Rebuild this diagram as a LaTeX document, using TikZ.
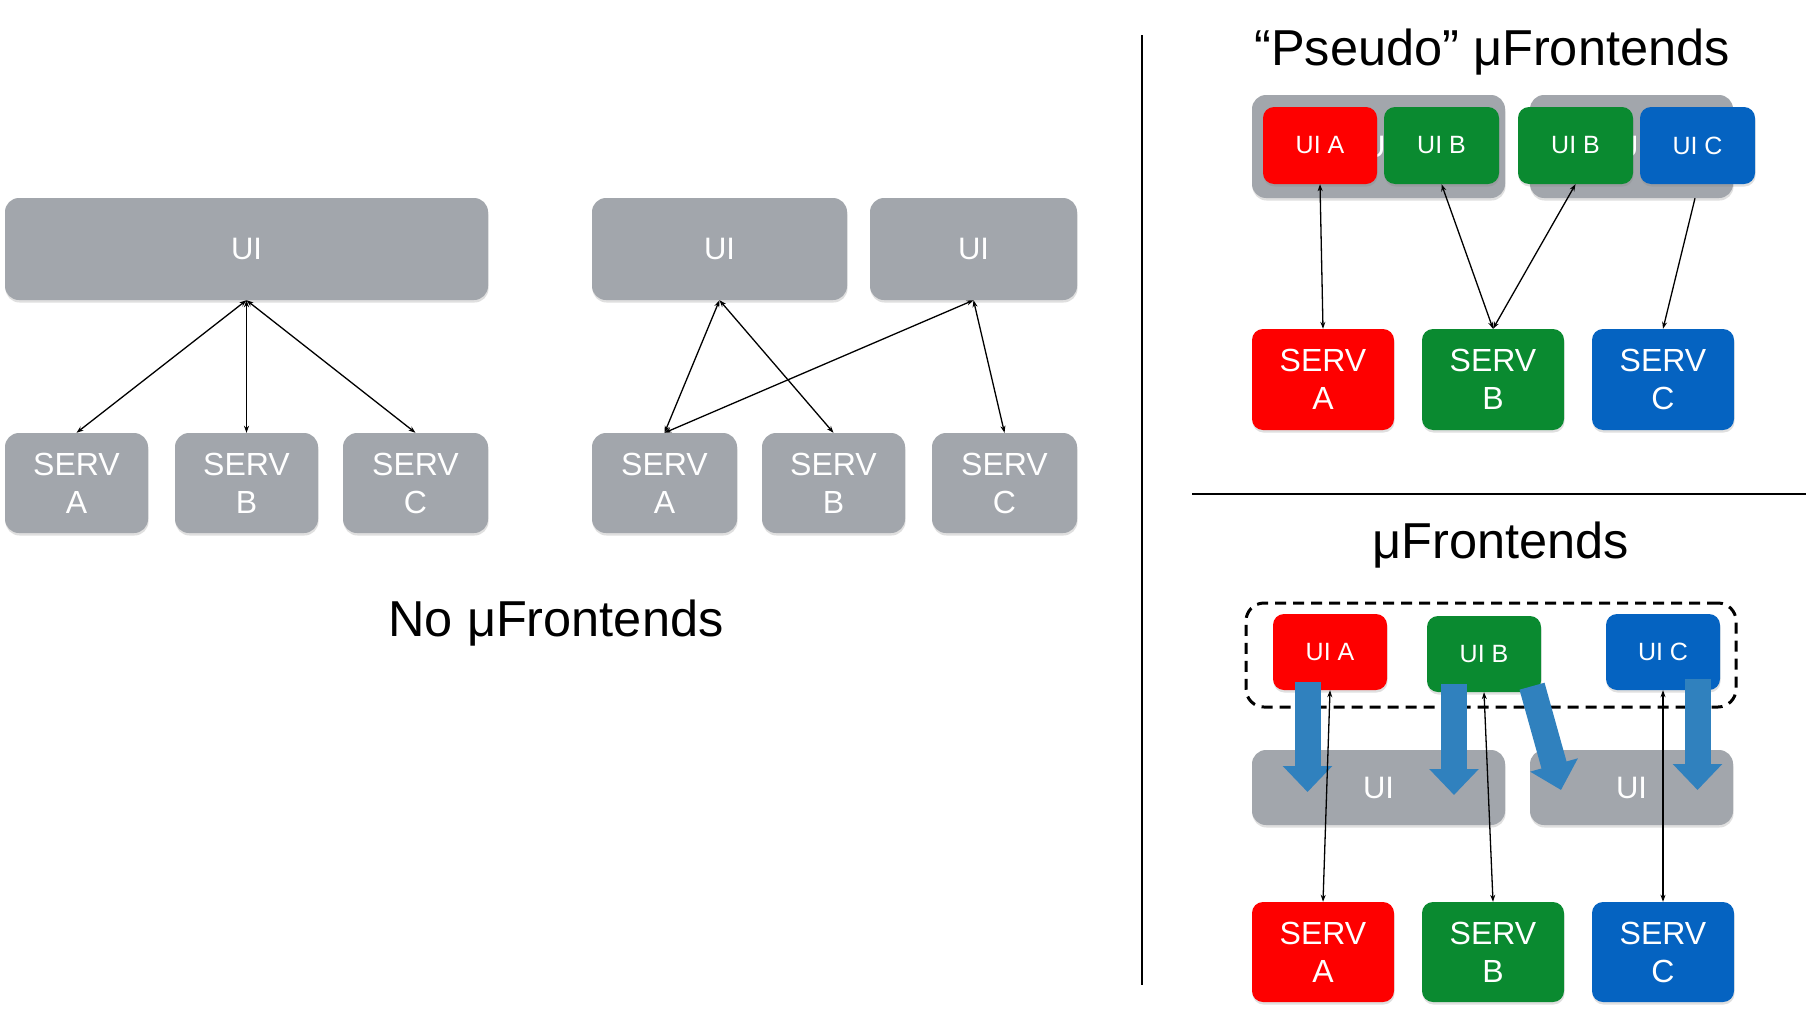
\documentclass[tikz,border=0pt]{standalone}
\usepackage{fontspec}
\setmainfont{Liberation Sans}
\usetikzlibrary{arrows.meta,shadows,calc}
\definecolor{uigray}{HTML}{A2A6AC}
\definecolor{cred}{HTML}{FE0000}
\definecolor{cgreen}{HTML}{0A8A30}
\definecolor{cblue}{HTML}{0563C1}
\definecolor{barrow}{HTML}{3081BE}
\tikzset{
  basebox/.style={draw=none, inner sep=0pt, text=white, align=center,
    drop shadow={shadow xshift=0.5pt, shadow yshift=-2.5pt, opacity=0.25}},
  graybox/.style={basebox, fill=uigray, rounded corners=14pt},
  colbox/.style={basebox, rounded corners=11pt},
  servfont/.style={font=\fontsize{32}{38}\selectfont},
  uifont/.style={font=\fontsize{31}{35}\selectfont},
  smallfont/.style={font=\fontsize{25}{29}\selectfont},
  titlefont/.style={font=\fontsize{50.5}{58}\selectfont},
  link/.style={line width=1.3pt, {Stealth[length=7pt,width=5pt]}-{Stealth[length=7pt,width=5pt]}},
  onelink/.style={line width=1.3pt, -{Stealth[length=7pt,width=5pt]}},
  blockarrow/.style={draw=barrow, line width=26pt, -{Triangle[length=26pt,width=48pt]}},
  divider/.style={line width=1.8pt, black},
}
\begin{document}
\begin{tikzpicture}[x=1pt,y=-1pt]
\useasboundingbox (0,0) rectangle (1806,1017);
\fill[white] (0,0) rectangle (1806,1017);

% ---------- Left: single UI ----------
\node[graybox, uifont, minimum width=483, minimum height=102] (ui0) at (246.5,249) {UI};
\node[graybox, servfont, minimum width=143, minimum height=100] (sa0) at (76.5,483) {SERV\\A};
\node[graybox, servfont, minimum width=143, minimum height=100] (sb0) at (246.5,483) {SERV\\B};
\node[graybox, servfont, minimum width=145, minimum height=100] (sc0) at (415.5,483) {SERV\\C};
\draw[link] (ui0.south) -- (sa0.north);
\draw[link] (ui0.south) -- (sb0.north);
\draw[link] (ui0.south) -- (sc0.north);

% ---------- Middle: two UIs ----------
\node[graybox, uifont, minimum width=255, minimum height=102] (ui1) at (719.5,249) {UI};
\node[graybox, uifont, minimum width=207, minimum height=102] (ui2) at (973.5,249) {UI};
\node[graybox, servfont, minimum width=145, minimum height=100] (sa1) at (664.5,483) {SERV\\A};
\node[graybox, servfont, minimum width=143, minimum height=100] (sb1) at (833.5,483) {SERV\\B};
\node[graybox, servfont, minimum width=145, minimum height=100] (sc1) at (1004.5,483) {SERV\\C};
\draw[link] (ui1.south) -- (sa1.north);
\draw[link] (ui1.south) -- (sb1.north);
\draw[link] (ui2.south) -- (sa1.north);
\draw[link] (ui2.south) -- (sc1.north);

\node[titlefont, anchor=base] (t1) at (556,636) {No μFrontends};

% ---------- Dividers ----------
\coordinate (vtop) at (1142,35);
\coordinate (vbot) at (1142,985);
\draw[divider] (vtop) -- (vbot);
\coordinate (hl) at (1192,494);
\coordinate (hr) at (1806,494);
\draw[line width=1.5pt] (hl) -- (hr);

% ---------- Right top: Pseudo uFrontends ----------
\node[titlefont, anchor=base] (t2) at (1492,65) {“Pseudo” μFrontends};
\node[graybox, uifont, minimum width=253, minimum height=103] (g1) at (1378.5,146.5) {UI};
\node[graybox, uifont, minimum width=203, minimum height=103] (g2) at (1631.5,146.5) {UI};
\node[colbox, smallfont, fill=cred, minimum width=114, minimum height=77] (ua2) at (1320,145.5) {UI A};
\node[colbox, smallfont, fill=cgreen, minimum width=115, minimum height=77] (ub2) at (1441.5,145.5) {UI B};
\node[colbox, smallfont, fill=cgreen, minimum width=115, minimum height=77] (ub2b) at (1575.5,145.5) {UI B};
\node[colbox, smallfont, fill=cblue, minimum width=115, minimum height=77] (uc2) at (1697.5,145.5) {UI C};
\node[colbox, servfont, fill=cred, minimum width=142, minimum height=101] (sa2) at (1323,379.5) {SERV\\A};
\node[colbox, servfont, fill=cgreen, minimum width=142, minimum height=101] (sb2) at (1493,379.5) {SERV\\B};
\node[colbox, servfont, fill=cblue, minimum width=142, minimum height=101] (sc2) at (1663,379.5) {SERV\\C};
\draw[link] (ua2.south) -- (sa2.north);
\draw[link] (ub2.south) -- (sb2.north);
\draw[link] (ub2b.south) -- (sb2.north);
\draw[onelink] ($(g2.south)+(63.5,0)$) -- (sc2.north);

% ---------- Right bottom: uFrontends ----------
\node[titlefont, anchor=base] (t3) at (1501,558) {μFrontends};
\node[draw, line width=3pt, dash pattern=on 11pt off 7pt, rounded corners=18pt,
      minimum width=490, minimum height=104, inner sep=0pt] (frame) at (1491,655) {};
\node[colbox, smallfont, fill=cred, minimum width=114, minimum height=76] (ua3) at (1330,652) {UI A};
\node[colbox, smallfont, fill=cgreen, minimum width=114, minimum height=76] (ub3) at (1484,654) {UI B};
\node[colbox, smallfont, fill=cblue, minimum width=114, minimum height=76] (uc3) at (1663,652) {UI C};
\node[graybox, uifont, minimum width=253, minimum height=75] (g3) at (1378.5,787.5) {UI};
\node[graybox, uifont, minimum width=203, minimum height=75] (g4) at (1631.5,787.5) {UI};
\node[colbox, servfont, fill=cred, minimum width=142, minimum height=100] (sa3) at (1323,952) {SERV\\A};
\node[colbox, servfont, fill=cgreen, minimum width=142, minimum height=100] (sb3) at (1493,952) {SERV\\B};
\node[colbox, servfont, fill=cblue, minimum width=142, minimum height=100] (sc3) at (1663,952) {SERV\\C};

\draw[blockarrow] ($(ua3.south)+(-22.5,-8)$) -- ($(g3.center)+(-71,4.5)$);
\draw[blockarrow] ($(ub3.south)+(-30,-8)$) -- ($(g3.center)+(75.5,7.5)$);
\draw[blockarrow] ($(ub3.south)+(48,-6)$) -- ($(g4.center)+(-70.5,2.5)$);
\draw[blockarrow] ($(uc3.south)+(34.5,-11)$) -- ($(g4.center)+(66,2.5)$);

\draw[link] (ua3.south) -- (sa3.north);
\draw[link] (ub3.south) -- (sb3.north);
\draw[link] (uc3.south) -- (sc3.north);
\end{tikzpicture}
\end{document}
